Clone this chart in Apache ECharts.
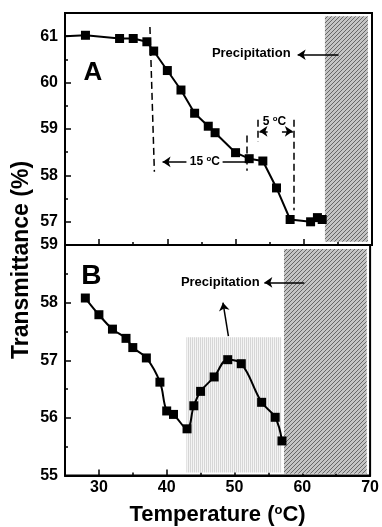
<!DOCTYPE html>
<html>
<head>
<meta charset="utf-8">
<script src="https://cdn.jsdelivr.net/npm/echarts@6/dist/echarts.min.js"></script>
<style>
  html, body { margin: 0; background: #fff; }
  #main { width: 382px; height: 527px; }
</style>
</head>
<body>
<div id="main"></div>
<script>
// panel A data
var tempA = [25, 28, 33, 35, 37, 38, 40, 42, 44, 46, 47, 50, 52, 54, 56, 58, 61, 62, 62.7]
var transA = [61.0, 61.02, 60.95, 60.95, 60.88, 60.68, 60.26, 59.84, 59.34, 59.06, 58.92, 58.49, 58.36, 58.31, 57.73, 57.05, 57.0, 57.09, 57.05]

// panel B data
var tempB = [28, 30, 32, 34, 35, 37, 39, 40, 41, 43, 44, 45, 47, 49, 51, 54, 56, 57]
var transB = [58.08, 57.79, 57.54, 57.38, 57.22, 57.04, 56.62, 56.12, 56.06, 55.81, 56.21, 56.46, 56.71, 57.01, 56.94, 56.27, 56.01, 55.6]

// ticks
var xMajor = [30, 40, 50, 60, 70]
var xMinor = [35, 45, 55, 65]
var yMajorA = [57, 58, 59, 60, 61]
var yMinorA = [57.5, 58.5, 59.5, 60.5]
var yMajorB = [55, 56, 57, 58, 59]
var yMinorB = [55.5, 56.5, 57.5, 58.5]

// annotations (data coords)
var dashA = [[[37.45, 61.2], [38.1, 58.08]], [[51.6, 58.86], [51.6, 58.1]], [[53.3, 59.2], [53.3, 58.72]], [[58.6, 59.2], [58.6, 57.25]]]
var arrowA = [[[42.8, 58.29], [39.3, 58.29]], [[54.7, 58.95], [53.5, 58.95]], [[56.8, 58.95], [58.4, 58.95]], [[65.1, 60.6], [59.1, 60.6]]]
var plainA = [[[48.1, 58.29], [51.6, 58.29]]]
var arrowB = [[[60.3, 58.35], [54.4, 58.35]], [[49.1, 57.42], [48.3, 58.0]]]
var hatchA = [[63.1, 61.43], [69.4, 56.57]]
var hatchB = [[57.3, 58.93], [69.5, 55.03]]
var lightB = [[42.9, 57.4], [56.9, 55.05]]

var font = '"Liberation Sans", Arial, sans-serif'

function hatch () {
  var c = document.createElement('canvas')
  c.width = c.height = 4
  var g = c.getContext('2d')
  g.fillStyle = '#c4c4c4'
  g.fillRect(0, 0, 4, 4)
  g.strokeStyle = '#666'
  g.lineWidth = 1
  g.beginPath()
  g.moveTo(0, 4); g.lineTo(4, 0)
  g.moveTo(-1, 1); g.lineTo(1, -1)
  g.moveTo(3, 5); g.lineTo(5, 3)
  g.stroke()
  return c
}

function stripes () {
  var c = document.createElement('canvas')
  c.width = 2; c.height = 2
  var g = c.getContext('2d')
  g.fillStyle = '#f4f4f4'
  g.fillRect(0, 0, 2, 2)
  g.fillStyle = '#d6d6d6'
  g.fillRect(0, 0, 1, 2)
  return c
}

function xAxes (grid, labels) {
  return [{
    type: 'value', gridIndex: grid, min: 25, max: 70, position: 'bottom',
    axisLine: { lineStyle: { color: '#000', width: 2 } },
    axisTick: { inside: true, length: 6, customValues: xMajor, lineStyle: { color: '#000', width: 1.5 } },
    axisLabel: { show: labels, customValues: xMajor, color: '#000', fontSize: 16, fontWeight: 'bold', fontFamily: font, margin: 4 },
    splitLine: { show: false },
    name: labels ? 'Temperature ({s|o}C)' : '',
    nameLocation: 'middle',
    nameGap: 28,
    nameTextStyle: {
      color: '#000', fontSize: 22, fontWeight: 'bold', fontFamily: font,
      rich: { s: { fontSize: 13, fontWeight: 'bold', fontFamily: font, color: '#000', padding: [0, 0, 10, 0] } }
    }
  }, {
    type: 'value', gridIndex: grid, min: 25, max: 70, position: 'bottom',
    axisLine: { show: false },
    axisTick: { inside: true, length: 3, customValues: xMinor, lineStyle: { color: '#000', width: 1.5 } },
    axisLabel: { show: false },
    splitLine: { show: false }
  }]
}

function yAxes (grid, min, max, major, minor) {
  return [{
    type: 'value', gridIndex: grid, min: min, max: max, position: 'left',
    axisLine: { lineStyle: { color: '#000', width: 2 } },
    axisTick: { inside: true, length: 6, customValues: major, lineStyle: { color: '#000', width: 1.5 } },
    axisLabel: { customValues: major, color: '#000', fontSize: 16, fontWeight: 'bold', fontFamily: font, margin: 7 },
    splitLine: { show: false }
  }, {
    type: 'value', gridIndex: grid, min: min, max: max, position: 'left',
    axisLine: { show: false },
    axisTick: { inside: true, length: 3, customValues: minor, lineStyle: { color: '#000', width: 1.5 } },
    axisLabel: { show: false },
    splitLine: { show: false }
  }]
}

function pairs (list, extra) {
  return list.map(function (p) {
    return [Object.assign({ coord: p[0] }, extra), Object.assign({ coord: p[1] }, extra)]
  })
}

function text (x, y, str, size) {
  return {
    coord: [x, y],
    label: {
      show: true, position: 'inside', formatter: str, color: '#000', fontSize: size,
      fontWeight: 'bold', fontFamily: font,
      rich: { s: { fontSize: size * 0.65, fontWeight: 'bold', fontFamily: font, color: '#000', padding: [0, 0, size * 0.45, 0] } }
    }
  }
}

var dataA = tempA.map(function (t, i) {
  return i === 0 ? { value: [t, transA[i]], symbol: 'none' } : [t, transA[i]]
})
var dataB = tempB.map(function (t, i) { return [t, transB[i]] })

var dash = { symbol: 'none', lineStyle: { type: [7, 4], color: '#000', width: 1.5 } }
var solid = { symbol: 'none', lineStyle: { type: 'solid', color: '#000', width: 1.5 } }

var chart = echarts.init(document.getElementById('main'))
chart.setOption({
  backgroundColor: '#fff',
  animation: false,
  grid: [
    { left: 65, right: 10, top: 13, height: 232, show: true, borderColor: '#000', borderWidth: 2 },
    { left: 65, right: 10, top: 245, height: 232, show: true, borderColor: '#000', borderWidth: 2 }
  ],
  xAxis: xAxes(0, false).concat(xAxes(1, true)),
  yAxis: yAxes(0, 56.5, 61.5, yMajorA, yMinorA).concat(yAxes(1, 55, 59, yMajorB, yMinorB)),
  graphic: [{
    type: 'text', x: 22, y: 260, rotation: Math.PI / 2,
    style: { text: 'Transmittance (%)', font: 'bold 23px ' + font, fill: '#000', align: 'center', verticalAlign: 'middle' }
  }],
  series: [{
    type: 'line',
    xAxisIndex: 0,
    yAxisIndex: 0,
    data: dataA,
    symbol: 'rect',
    symbolSize: 9,
    color: '#000',
    lineStyle: { color: '#000', width: 2 },
    silent: true,
    z: 5,
    markArea: {
      silent: true,
      itemStyle: { color: { image: hatch(), repeat: 'repeat' } },
      data: [[{ coord: hatchA[0] }, { coord: hatchA[1] }]]
    },
    markLine: {
      silent: true,
      symbol: ['none', 'arrow'],
      symbolSize: 8,
      label: { show: false },
      lineStyle: { color: '#000', width: 1.5, type: 'solid' },
      data: pairs(dashA, dash).concat(pairs(plainA, solid)).concat(arrowA.map(function (p) {
        return [{ coord: p[0] }, { coord: p[1] }]
      }))
    },
    markPoint: {
      silent: true,
      symbol: 'circle',
      symbolSize: 0,
      data: [
        text(29.1, 60.22, 'A', 26),
        text(45.5, 58.29, '15 {s|o}C', 12),
        text(55.7, 59.15, '5 {s|o}C', 12),
        text(52.3, 60.62, 'Precipitation', 13)
      ]
    }
  }, {
    type: 'line',
    xAxisIndex: 2,
    yAxisIndex: 2,
    data: dataB,
    smooth: 0.4,
    symbol: 'rect',
    symbolSize: 9,
    color: '#000',
    lineStyle: { color: '#000', width: 2 },
    silent: true,
    z: 5,
    markArea: {
      silent: true,
      data: [
        [{ coord: lightB[0], itemStyle: { color: { image: stripes(), repeat: 'repeat' } } }, { coord: lightB[1] }],
        [{ coord: hatchB[0], itemStyle: { color: { image: hatch(), repeat: 'repeat' } } }, { coord: hatchB[1] }]
      ]
    },
    markLine: {
      silent: true,
      symbol: ['none', 'arrow'],
      symbolSize: 8,
      label: { show: false },
      lineStyle: { color: '#000', width: 1.5, type: 'solid' },
      data: arrowB.map(function (p) { return [{ coord: p[0] }, { coord: p[1] }] })
    },
    markPoint: {
      silent: true,
      symbol: 'circle',
      symbolSize: 0,
      data: [
        text(28.9, 58.46, 'B', 28),
        text(47.9, 58.35, 'Precipitation', 13)
      ]
    }
  }]
})
</script>
</body>
</html>
